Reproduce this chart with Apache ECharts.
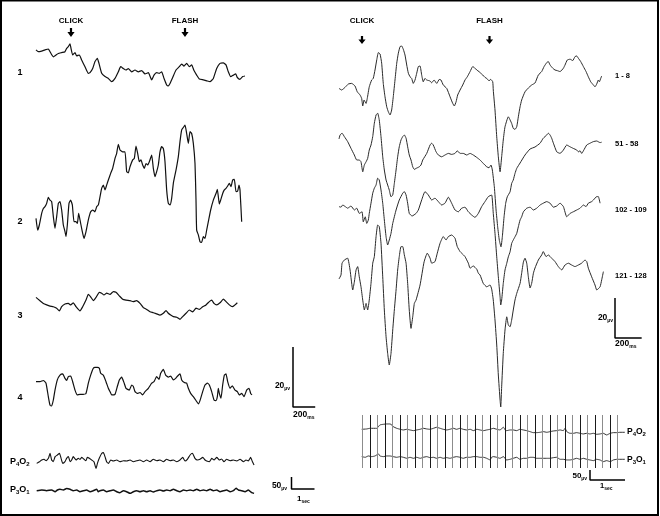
<!DOCTYPE html>
<html><head><meta charset="utf-8">
<script src="https://cdn.jsdelivr.net/npm/echarts@6/dist/echarts.min.js"></script>
<style>html,body{margin:0;padding:0;background:#fff}#c{width:660px;height:516px}</style>
</head><body><div id="c"></div>
<script>
// ---------- DATA (time in ms or s, amplitude in µV) ----------
const stimulusLabels = ['CLICK', 'FLASH'];
const leftTraceLabels = ['1', '2', '3', '4'];
const rightTraceLabels = ['1 - 8', '51 - 58', '102 - 109', '121 - 128'];
const eegLabels = ['P4O2', 'P3O1'];

const left1 = [[0,7.6],[21,7.0],[51,7.2],[81,7.6],[111,7.9],[126,7.0],[156,5.3],[180,5.9],[201,6.4],[231,6.7],[261,7.0],[276,8.1],[291,8.7],[306,9.6],[315,8.1],[330,5.9],[351,6.7],[366,5.6],[390,5.9],[411,4.2],[441,2.0],[471,-0.2],[486,0],[510,1.4],[531,3.7],[552,4.8],[567,3.1],[591,-0.2],[621,-1.3],[651,-1.9],[681,-3.0],[711,-1.9],[741,0.3],[762,2.0],[786,1.4],[810,0.9],[831,1.4],[861,0.3],[891,0.9],[921,0.3],[951,0.7],[981,-0.4],[1011,0],[1041,-2.4],[1062,-0.8],[1086,0],[1110,-0.2],[1131,0.3],[1152,-1.9],[1176,-4.1],[1191,-4.4],[1206,-3.6],[1230,-1.6],[1260,0.9],[1290,2.0],[1311,2.9],[1332,2.2],[1356,3.1],[1380,2.0],[1401,2.6],[1422,0.7],[1446,-0.8],[1470,-2.1],[1506,-2.4],[1536,-2.7],[1566,-3.0],[1596,-1.9],[1626,1.4],[1656,3.1],[1686,3.3],[1710,2.6],[1731,0.3],[1752,-1.3],[1776,-0.8],[1797,-0.4],[1812,-1.6],[1836,-2.2],[1860,-1.3],[1881,-1.1]];
const left2 = [[0,1.1],[15,-2.8],[30,-1.1],[51,2.8],[66,4.4],[81,5.0],[96,6.1],[111,8.1],[126,7.2],[141,6.7],[156,1.7],[171,-2.2],[186,1.7],[201,6.1],[216,6.7],[231,3.9],[246,-1.1],[261,-3.3],[270,-5.0],[282,-1.1],[297,6.1],[312,7.2],[327,5.6],[342,0],[360,0],[372,-0.6],[384,2.8],[396,0.6],[414,-2.8],[432,-5.6],[450,-3.3],[471,0.6],[492,3.3],[510,3.9],[531,3.3],[546,5.0],[561,5.6],[576,8.3],[591,11.1],[606,12.2],[621,10.6],[636,12.2],[651,13.9],[672,16.1],[690,17.8],[711,21.1],[726,22.8],[741,25.8],[756,23.9],[780,23.3],[801,23.3],[816,16.7],[831,16.3],[846,18.3],[870,20.6],[885,21.1],[900,25.2],[915,22.8],[930,20.0],[945,20.6],[960,18.9],[975,17.8],[990,19.4],[1005,18.9],[1020,20.0],[1041,22.2],[1056,17.8],[1071,15.0],[1086,16.7],[1101,18.9],[1116,23.3],[1131,25.0],[1146,24.4],[1161,20.0],[1176,10.6],[1191,6.1],[1206,5.6],[1221,7.8],[1236,12.8],[1260,17.2],[1281,21.7],[1296,26.7],[1311,30.6],[1326,31.4],[1341,32.2],[1356,29.4],[1371,26.1],[1386,30.0],[1401,29.4],[1416,26.1],[1431,19.4],[1440,7.2],[1446,-2.8],[1461,-4.4],[1476,-6.7],[1491,-6.9],[1506,-5.0],[1521,-5.6],[1536,-2.8],[1551,0],[1572,3.9],[1596,7.2],[1620,9.4],[1632,10.8],[1650,5.9],[1662,7.2],[1680,9.4],[1695,10.6],[1710,11.1],[1725,11.9],[1740,12.8],[1755,11.7],[1770,13.9],[1785,14.1],[1800,10.0],[1815,10.2],[1827,12.2],[1836,10.6],[1851,0]];
const left3 = [[0,6.2],[36,5.1],[66,4.2],[96,3.7],[126,3.3],[156,3.1],[186,2.6],[210,1.7],[231,3.1],[261,4.0],[291,4.2],[312,3.7],[336,4.4],[360,3.1],[396,1.7],[420,3.1],[450,5.3],[471,7.2],[492,6.4],[516,5.1],[540,6.2],[570,7.9],[591,7.6],[612,7.0],[636,7.6],[666,7.2],[696,8.1],[720,7.9],[750,6.7],[780,5.6],[810,5.3],[846,5.1],[876,4.8],[906,5.1],[936,4.2],[966,2.8],[996,2.2],[1026,1.4],[1056,1.1],[1086,0.7],[1116,0.3],[1146,0.9],[1170,1.8],[1191,0.9],[1212,0.3],[1236,-0.2],[1266,-0.4],[1296,-1.1],[1320,-0.2],[1350,0.9],[1380,2.0],[1410,1.4],[1440,2.6],[1470,2.2],[1500,3.1],[1530,3.7],[1560,4.8],[1581,5.3],[1602,4.2],[1626,3.7],[1656,4.4],[1686,5.6],[1710,4.8],[1740,3.7],[1767,3.1],[1791,3.7],[1812,4.4]];
const left4 = [[0,5.2],[36,5.2],[66,5.6],[90,4.7],[111,0.2],[126,-2.6],[141,-2.9],[156,-0.9],[171,2.4],[192,5.8],[216,7.4],[240,7.8],[261,6.3],[276,5.6],[291,6.9],[312,7.1],[330,5.2],[351,2.4],[372,0.8],[396,1.0],[426,1.0],[450,1.3],[471,4.7],[492,7.4],[516,9.7],[531,10.0],[552,10.0],[570,9.7],[582,8.0],[606,7.4],[630,5.2],[651,3.0],[666,1.9],[681,0.8],[711,1.0],[732,3.6],[750,5.8],[771,6.7],[792,4.9],[810,3.0],[840,2.4],[861,4.1],[876,3.6],[891,1.9],[912,1.3],[936,1.6],[960,0.8],[981,1.9],[1011,3.0],[1041,4.7],[1062,5.2],[1086,6.9],[1107,6.0],[1122,8.0],[1146,9.3],[1167,7.4],[1191,6.7],[1212,7.1],[1236,5.8],[1257,6.3],[1275,7.1],[1296,7.8],[1311,5.8],[1335,4.9],[1356,4.7],[1371,3.0],[1392,1.3],[1416,0.2],[1446,-1.4],[1461,-2.2],[1476,-1.1],[1500,1.9],[1521,4.1],[1542,4.7],[1560,4.1],[1581,1.9],[1602,-0.9],[1620,-1.1],[1632,0.2],[1641,3.0],[1650,1.3],[1665,-0.3],[1680,4.1],[1695,7.4],[1710,7.8],[1725,5.2],[1746,3.0],[1767,3.8],[1791,2.4],[1812,1.9],[1830,0.8],[1851,1.3],[1872,0.2],[1896,2.4],[1917,3.0],[1932,1.3],[1944,0.8]];

const right1 = [[0,-6.2],[20,-7.0],[45,-5.7],[70,-4.0],[95,-3.7],[120,-5.0],[137,-7.9],[158,-9.5],[170,-11.2],[178,-15.0],[188,-12.0],[203,-13.7],[212,-11.2],[227,-5.4],[245,-2.0],[257,-1.2],[270,3.0],[283,8.0],[295,11.7],[308,11.0],[320,6.4],[332,-3.7],[345,-10.4],[358,-15.4],[370,-17.9],[383,-19.5],[395,-17.0],[407,-10.4],[420,-2.0],[433,6.4],[445,11.4],[458,14.7],[470,15.0],[482,13.4],[495,10.5],[508,5.5],[520,1.4],[533,-0.4],[545,-1.2],[557,-3.7],[570,-2.0],[583,1.4],[595,4.7],[608,5.0],[620,0.5],[632,-2.9],[645,-1.2],[658,-2.0],[683,-2.5],[695,-3.4],[713,-2.0],[733,-3.7],[752,-1.7],[765,-2.0],[782,-4.5],[808,-6.2],[833,-10.4],[853,-13.7],[865,-15.0],[878,-12.9],[890,-9.5],[908,-7.0],[928,-4.5],[945,-2.0],[962,-0.4],[983,2.2],[1003,4.7],[1015,4.2],[1033,3.0],[1050,2.2],[1063,1.4],[1078,0.5],[1095,-0.7],[1108,-1.2],[1125,-2.4],[1138,-1.7],[1153,-2.9],[1157,-7.0],[1170,-17.0],[1183,-30.4],[1195,-40.4],[1208,-47.9],[1220,-40.4],[1232,-32.0],[1245,-25.4],[1270,-20.4],[1295,-23.7],[1307,-26.2],[1320,-26.7],[1333,-25.4],[1345,-20.4],[1358,-15.4],[1370,-12.0],[1395,-7.9],[1420,-6.0],[1445,-4.5],[1470,-3.5],[1495,0.5],[1520,2.2],[1538,4.7],[1558,6.7],[1570,7.2],[1583,5.5],[1603,3.9],[1620,3.0],[1637,2.7],[1658,2.2],[1683,3.9],[1695,5.5],[1712,8.0],[1733,8.4],[1753,7.7],[1770,9.7],[1783,10.0],[1795,8.9],[1813,7.2],[1833,4.7],[1853,2.2],[1870,-0.4],[1888,-2.9],[1908,-4.5],[1920,-5.4],[1933,-4.0],[1945,-2.0],[1953,-2.9],[1963,-1.2],[1970,0]];
const right2 = [[0,2.5],[8,4.5],[23,5.4],[40,3.7],[65,1.2],[90,-2.2],[115,-5.5],[133,-8.0],[152,-8.0],[165,-8.9],[178,-13.9],[190,-10.5],[203,-8.9],[215,-7.2],[227,-3.0],[240,-0.5],[253,3.7],[265,10.4],[278,14.5],[290,15.4],[302,12.0],[315,3.7],[328,-6.4],[340,-13.0],[353,-18.0],[365,-20.5],[377,-23.0],[390,-26.4],[403,-25.5],[415,-19.7],[428,-13.0],[440,-6.4],[452,-1.4],[465,2.0],[478,3.7],[490,4.5],[503,2.9],[515,-1.4],[527,-5.5],[540,-8.0],[553,-11.4],[565,-12.7],[578,-12.2],[602,-11.4],[615,-10.5],[628,-8.0],[658,-4.7],[683,-0.5],[695,0.4],[707,-0.5],[728,-3.9],[745,-5.5],[770,-6.4],[795,-5.5],[820,-4.7],[845,-5.2],[870,-4.7],[887,-3.4],[908,-4.7],[932,-4.7],[958,-5.5],[983,-4.7],[1007,-5.5],[1033,-6.7],[1058,-8.0],[1082,-9.7],[1108,-11.4],[1125,-11.9],[1140,-10.5],[1150,-13.0],[1165,-21.4],[1178,-33.0],[1190,-41.4],[1202,-48.0],[1215,-51.4],[1225,-46.4],[1238,-36.4],[1250,-29.7],[1262,-26.4],[1283,-23.9],[1295,-19.7],[1307,-18.0],[1320,-14.7],[1333,-12.2],[1358,-9.5],[1395,-5.5],[1433,-2.5],[1470,-1.5],[1508,0.4],[1532,2.9],[1558,4.5],[1570,5.4],[1583,4.5],[1595,2.9],[1608,0.4],[1633,-3.9],[1658,-4.7],[1683,-3.0],[1708,-0.5],[1733,-1.4],[1757,-2.2],[1783,-3.0],[1795,-3.9],[1808,-3.4],[1820,-4.7],[1833,-3.4],[1858,-0.5],[1883,0.4],[1908,1.2],[1933,1.5],[1958,0.7],[1970,0.9]];
const right3 = [[0,1.7],[15,1.4],[28,2.5],[47,1.7],[65,0.9],[90,2.0],[115,0],[133,0.9],[152,-1.7],[173,-0.9],[182,-5.9],[197,-3.4],[208,-6.7],[220,-5.0],[227,-1.7],[240,3.4],[253,8.4],[265,10.9],[278,12.5],[290,15.9],[302,15.0],[315,10.0],[328,3.4],[340,-5.0],[353,-13.4],[365,-17.5],[377,-15.0],[390,-11.7],[403,-6.7],[428,0],[452,5.0],[478,8.4],[490,9.2],[503,7.5],[515,3.4],[527,-1.7],[548,-3.0],[578,-1.7],[595,0],[620,5.0],[645,9.2],[670,7.5],[695,5.0],[720,5.9],[745,4.2],[770,2.5],[795,3.4],[820,6.4],[845,3.4],[870,0],[895,-0.9],[920,0.9],[945,1.4],[970,-0.9],[995,-2.5],[1020,-3.7],[1045,-1.7],[1070,1.7],[1095,4.2],[1120,6.7],[1145,7.5],[1157,-1.7],[1170,-11.7],[1183,-23.4],[1195,-33.4],[1208,-43.4],[1213,-47.5],[1220,-45.0],[1232,-36.7],[1245,-30.0],[1258,-26.7],[1270,-23.4],[1283,-20.9],[1295,-16.7],[1307,-15.0],[1320,-13.4],[1333,-11.7],[1345,-8.4],[1358,-5.0],[1370,-3.4],[1383,-0.9],[1408,0.9],[1433,1.4],[1458,0],[1483,0.9],[1508,2.5],[1532,3.4],[1558,4.2],[1583,3.4],[1608,1.4],[1633,2.0],[1658,3.4],[1683,1.7],[1708,-3.4],[1733,-1.7],[1757,-0.9],[1783,0],[1808,0.9],[1833,2.5],[1853,1.7],[1870,3.4],[1895,4.2],[1908,5.0],[1933,6.7],[1945,6.7],[1958,3.4]];
const right4 = [[0,-1.5],[15,0.5],[23,6.4],[40,8.0],[65,8.9],[83,3.0],[103,-7.0],[115,-3.0],[128,3.0],[140,4.7],[152,-0.4],[165,-5.4],[178,-12.0],[190,-17.0],[203,-13.7],[215,-17.0],[227,-12.0],[240,-3.7],[253,6.4],[265,9.7],[278,19.7],[290,25.5],[302,24.7],[315,16.4],[328,-0.4],[340,-17.0],[353,-30.4],[365,-38.7],[377,-44.5],[390,-38.7],[403,-27.0],[415,-17.0],[428,-7.0],[440,3.0],[452,9.7],[465,14.7],[478,14.7],[490,10.5],[503,6.4],[515,-3.7],[527,-17.0],[540,-26.2],[553,-20.4],[565,-13.7],[578,-12.0],[608,-4.5],[638,7.0],[662,11.4],[683,8.9],[695,6.4],[720,7.2],[737,11.4],[758,16.4],[782,19.7],[803,18.0],[820,19.7],[845,20.5],[870,18.9],[887,14.7],[908,12.2],[920,11.4],[945,9.7],[970,6.4],[983,3.9],[1007,5.0],[1033,3.4],[1045,1.4],[1058,0.5],[1082,-3.7],[1108,-5.4],[1133,-4.5],[1145,-6.5],[1157,-12.0],[1170,-22.0],[1183,-34.5],[1195,-49.5],[1208,-62.0],[1213,-65.5],[1220,-55.4],[1232,-38.7],[1245,-27.0],[1258,-20.4],[1270,-24.5],[1283,-25.4],[1295,-22.0],[1307,-17.0],[1320,-12.0],[1333,-8.7],[1358,-3.7],[1370,1.4],[1383,7.0],[1395,8.9],[1408,6.4],[1420,-0.4],[1433,-6.0],[1445,-3.7],[1458,1.4],[1470,4.0],[1495,8.0],[1520,10.5],[1532,12.2],[1553,9.7],[1570,10.5],[1595,8.9],[1620,7.2],[1645,4.7],[1670,3.0],[1695,5.5],[1720,6.4],[1745,5.5],[1770,4.7],[1795,5.5],[1820,6.4],[1845,8.0],[1858,7.2],[1870,3.9],[1895,-0.4],[1920,-4.5],[1933,-7.0],[1958,-5.4],[1970,-2.0],[1983,2.2]];

const leftP4O2 = [[0,-7],[0.12,0],[0.22,7],[0.32,10],[0.41,4],[0.51,14],[0.58,35],[0.65,7],[0.72,0],[0.80,21],[0.90,28],[0.99,35],[1.06,14],[1.13,-7],[1.23,0],[1.30,14],[1.38,21],[1.45,0],[1.52,7],[1.59,21],[1.71,7],[1.81,14],[1.88,10],[1.96,18],[2.06,10],[2.14,4],[2.20,18],[2.29,14],[2.39,7],[2.49,0],[2.58,-28],[2.64,-7],[2.72,14],[2.83,35],[2.90,38],[2.97,21],[3.04,0],[3.12,-7],[3.22,7],[3.33,3],[3.48,7],[3.62,0],[3.77,4],[3.91,3],[4.06,7],[4.20,0],[4.35,4],[4.49,7],[4.64,0],[4.78,7],[4.93,0],[5.07,10],[5.22,4],[5.36,7],[5.51,0],[5.65,10],[5.80,4],[5.94,7],[6.09,0],[6.23,7],[6.35,18],[6.45,3],[6.55,10],[6.67,28],[6.77,35],[6.88,14],[6.99,7],[7.10,10],[7.22,18],[7.32,7],[7.39,3],[7.51,0],[7.61,14],[7.71,7],[7.83,18],[7.94,7],[8.04,11],[8.14,0],[8.26,10],[8.41,4],[8.55,7],[8.70,3],[8.84,10],[8.99,0],[9.10,7],[9.20,3],[9.30,18],[9.38,0],[9.45,-14]];
const leftP3O1 = [[0,-3],[0.22,0],[0.43,-3],[0.65,0],[0.80,-7],[0.90,0],[1.01,3],[1.16,0],[1.30,6],[1.45,3],[1.59,-3],[1.74,0],[1.88,-7],[2.03,-3],[2.17,0],[2.32,-7],[2.46,-3],[2.61,3],[2.68,-7],[2.75,-3],[2.90,0],[3.04,-7],[3.19,-3],[3.33,0],[3.48,-7],[3.62,-11],[3.77,-3],[3.91,-7],[4.06,-14],[4.20,-7],[4.35,-3],[4.49,-7],[4.64,-3],[4.78,-7],[4.93,-3],[5.07,-8],[5.22,-3],[5.36,0],[5.51,-4],[5.65,0],[5.80,-3],[5.94,3],[6.09,-3],[6.23,-7],[6.38,0],[6.52,-3],[6.67,0],[6.81,-3],[6.96,3],[7.10,-3],[7.25,0],[7.39,-3],[7.54,3],[7.68,-3],[7.83,0],[7.97,-7],[8.12,-3],[8.26,0],[8.41,-7],[8.55,-3],[8.67,7],[8.77,0],[8.91,-3],[9.06,-7],[9.20,0],[9.35,-11],[9.45,-14]];

const rightP4O2 = [[0,0],[0.14,1.7],[0.24,5],[0.43,5],[0.52,21.7],[0.62,25],[0.71,26.7],[0.81,26.7],[0.86,21.7],[0.90,13.3],[1.00,5],[1.10,0],[1.19,-3.3],[1.29,0],[1.38,-3.3],[1.48,-6.7],[1.57,-3.3],[1.67,0],[1.76,5],[1.86,1.7],[1.95,0],[2.05,5],[2.14,10],[2.24,5],[2.33,0],[2.43,-3.3],[2.52,0],[2.62,5],[2.71,0],[2.81,5],[2.90,0],[3.00,-3.3],[3.10,0],[3.19,-6.7],[3.29,0],[3.38,-3.3],[3.48,-6.7],[3.57,-3.3],[3.67,0],[3.76,5],[3.86,0],[3.95,-3.3],[4.05,10],[4.10,-3.3],[4.14,-6.7],[4.24,-3.3],[4.33,-3.3],[4.43,-6.7],[4.52,0],[4.62,-3.3],[4.71,-6.7],[4.81,-11.7],[4.90,-16.7],[5.00,-16.7],[5.10,-15],[5.19,-11.7],[5.29,-15],[5.38,-11.7],[5.48,-8.3],[5.57,-6.7],[5.67,-3.3],[5.76,-6.7],[5.81,5],[5.86,-11.7],[5.95,-20],[6.05,-20],[6.14,-16.7],[6.24,-20],[6.33,-23.3],[6.43,-20],[6.52,-23.3],[6.62,-20],[6.71,-25],[6.81,-23.3],[6.90,-20],[7.00,-28.3],[7.10,-20],[7.19,-16.7],[7.29,-16.7],[7.38,-15],[7.52,-15]];
const rightP3O1 = [[0,3.3],[0.10,0],[0.19,6.7],[0.29,3.3],[0.38,6.7],[0.48,16.7],[0.52,6.7],[0.62,3.3],[0.71,6.7],[0.81,6.7],[0.90,3.3],[1.00,0],[1.10,3.3],[1.19,0],[1.29,-5],[1.38,0],[1.48,-5],[1.57,0],[1.67,-5],[1.76,0],[1.86,3.3],[1.95,-1.7],[2.05,0],[2.14,-5],[2.24,0],[2.33,-5],[2.43,-1.7],[2.52,-5],[2.62,0],[2.71,3.3],[2.81,0],[2.90,-5],[3.00,0],[3.10,0],[3.19,3.3],[3.29,3.3],[3.38,0],[3.48,0],[3.57,-5],[3.67,-13.3],[3.71,0],[3.76,3.3],[3.86,0],[3.95,-5],[4.05,3.3],[4.14,-13.3],[4.24,-10],[4.33,-5],[4.43,0],[4.52,-10],[4.62,-5],[4.71,-5],[4.81,0],[4.90,0],[5.00,-5],[5.10,-5],[5.19,-5],[5.29,-5],[5.38,-5],[5.48,-1.7],[5.57,0],[5.67,-10],[5.76,-10],[5.86,-13.3],[5.95,-13.3],[6.05,-10],[6.14,-5],[6.24,-10],[6.33,-5],[6.43,-10],[6.52,-13.3],[6.62,-16.7],[6.71,-10],[6.81,-13.3],[6.90,-21.7],[7.00,-16.7],[7.10,-21.7],[7.19,-13.3],[7.29,-10],[7.38,-10],[7.52,-10]];

// stimulus marker times (s) on the right EEG strip
const markerTimes = [0.02,0.23,0.45,0.66,0.88,1.09,1.31,1.52,1.73,1.95,2.16,2.38,2.59,2.81,3.02,3.23,3.45,3.66,3.88,4.09,4.31,4.52,4.73,4.95,5.16,5.38,5.59,5.81,6.02,6.23,6.45,6.66,6.88,7.09,7.31];

// calibration bars
const erpBar = [[0,20],[0,0],[200,0]];   // 20 µV / 200 ms
const eegBar = [[0,50],[0,0],[1,0]];     // 50 µV / 1 s

// ---------- LAYOUT ----------
const grids = [], xAxes = [], yAxes = [], series = [];
function addTrace(data, x0, zeroY, unitPerPx, pxPerUv, xMax, halfH, color, width) {
  const i = grids.length;
  const up = Math.min(halfH, zeroY - 2), down = halfH;
  grids.push({left: x0, top: zeroY - up, width: xMax / unitPerPx, height: up + down});
  xAxes.push({type: 'value', gridIndex: i, min: 0, max: xMax, show: false});
  yAxes.push({type: 'value', gridIndex: i, min: -down / pxPerUv, max: up / pxPerUv, show: false});
  series.push({type: 'line', xAxisIndex: i, yAxisIndex: i, data: data, symbol: 'none', smooth: 0.15,
    clip: false, silent: true, animation: false, lineStyle: {color: color, width: width}});
  return i;
}
function addBar(data, x0, bottomY, unitPerPx, pxPerUv) {
  const i = grids.length;
  const xMax = data[2][0], yMax = data[0][1];
  grids.push({left: x0, top: bottomY - yMax * pxPerUv, width: xMax / unitPerPx, height: yMax * pxPerUv});
  xAxes.push({type: 'value', gridIndex: i, min: 0, max: xMax, show: false});
  yAxes.push({type: 'value', gridIndex: i, min: 0, max: yMax, show: false});
  series.push({type: 'line', xAxisIndex: i, yAxisIndex: i, data: data, symbol: 'none', clip: false,
    silent: true, animation: false, lineStyle: {color: '#000', width: 1.5}});
}

// left averaged responses: 9 ms/px, 3 px/µV
const leftZero = [72.7, 221.7, 316, 397.3];
[left1, left2, left3, left4].forEach((d, k) => addTrace(d, 36, leftZero[k], 9, 3, 1950, 110, '#111', 1.2));
// right averaged responses: 7.5 ms/px, 2 px/µV
const rightZero = [76, 144, 210, 276];
[right1, right2, right3, right4].forEach((d, k) => addTrace(d, 339, rightZero[k], 7.5, 2, 2000, 140, '#2a2a2a', 1));
// left EEG: 23 px/s, 0.24 px/µV
addTrace(leftP4O2, 36.7, 461.7, 1 / 23, 0.24, 9.5, 20, '#111', 1.1);
addTrace(leftP3O1, 36.7, 490, 1 / 23, 0.24, 9.5, 20, '#111', 1.5);
// right EEG: 35 px/s, 0.2 px/µV
addTrace(rightP4O2, 361.7, 429.3, 1 / 35, 0.2, 7.6, 20, '#333', 1);
addTrace(rightP3O1, 361.7, 457.3, 1 / 35, 0.2, 7.6, 20, '#333', 1);
// marker strip
(function () {
  const i = grids.length;
  grids.push({left: 361.7, top: 415, width: 7.6 * 35, height: 53});
  xAxes.push({type: 'value', gridIndex: i, min: 0, max: 7.6, show: false});
  yAxes.push({type: 'value', gridIndex: i, min: 0, max: 1, show: false});
  series.push({type: 'line', xAxisIndex: i, yAxisIndex: i, data: [], silent: true, animation: false,
    markLine: {symbol: ['none', 'none'], silent: true, animation: false, label: {show: false},
      lineStyle: {type: 'solid', width: 1},
      data: markerTimes.map((t, k) => ({xAxis: t, lineStyle: {color: k % 2 ? '#1a1a1a' : '#8c8c8c', type: 'solid', width: 1}}))}});
})();
// calibration bars
addBar(erpBar, 293, 407, 9, 3);
addBar(erpBar, 615, 338, 7.5, 2);
addBar(eegBar, 291.5, 489, 1 / 23, 0.24);
addBar(eegBar, 590, 480, 1 / 35, 0.2);

// ---------- TEXT / ANNOTATIONS ----------
const FONT = '"Liberation Sans", Arial, sans-serif';
function txt(x, y, text, size, align, extra) {
  return Object.assign({type: 'text', x: x, y: y, silent: true,
    style: {text: text, fill: '#000', font: 'bold ' + size + 'px ' + FONT,
      align: align || 'center', verticalAlign: 'middle', textAlign: align || 'center', textVerticalAlign: 'middle'}}, extra || {});
}
function richTxt(x, y, text, align, big, small) {
  return {type: 'text', x: x, y: y, silent: true,
    style: {text: text, align: align, verticalAlign: 'middle', textAlign: align, textVerticalAlign: 'middle',
      rich: {a: {fontSize: big, fontWeight: 'bold', fontFamily: FONT, fill: '#000', verticalAlign: 'bottom'},
             s: {fontSize: small, fontWeight: 'bold', fontFamily: FONT, fill: '#000', verticalAlign: 'bottom', padding: [0, 0, -1, 0]}}}};
}
function arrow(x, y0, y2) {
  const y1 = y0 + (y2 - y0) * 0.45;
  return {type: 'polygon', silent: true, shape: {points: [[x - 1.1, y0], [x + 1.1, y0], [x + 1.1, y1], [x + 3.6, y1], [x, y2], [x - 3.6, y1], [x - 1.1, y1]]}, style: {fill: '#000'}};
}
function eegLabel(name) { return '{a|' + name[0] + '}{s|' + name[1] + '}{a|' + name[2] + '}{s|' + name[3] + '}'; }

const graphic = [
  {type: 'rect', silent: true, shape: {x: 1, y: 0.5, width: 657, height: 514.5}, style: {fill: 'none', stroke: '#000', lineWidth: 2}},
  txt(71, 21, stimulusLabels[0], 8), txt(185, 21, stimulusLabels[1], 8),
  txt(362, 21, stimulusLabels[0], 8), txt(489.5, 21, stimulusLabels[1], 8),
  arrow(71, 28, 37), arrow(185, 28, 37), arrow(362, 36, 44), arrow(489.5, 36, 44),
  ...leftTraceLabels.map((s, k) => txt(20, leftZero[k], s, 9)),
  ...rightTraceLabels.map((s, k) => txt(615, rightZero[k], s, 7.5, 'left')),
  richTxt(290, 386, '{a|20}{s|µv}', 'right', 8.5, 5),
  richTxt(293, 415, '{a|200}{s|ms}', 'left', 8.5, 5),
  richTxt(613, 318, '{a|20}{s|µv}', 'right', 8.5, 5),
  richTxt(615, 344, '{a|200}{s|ms}', 'left', 8.5, 5),
  richTxt(10, 462, eegLabel(eegLabels[0]), 'left', 9, 6),
  richTxt(10, 490, eegLabel(eegLabels[1]), 'left', 9, 6),
  richTxt(287, 486, '{a|50}{s|µv}', 'right', 8.5, 5),
  richTxt(297, 499, '{a|1}{s|sec}', 'left', 8, 5),
  richTxt(627, 432, eegLabel(eegLabels[0]), 'left', 8.5, 6),
  richTxt(627, 459.5, eegLabel(eegLabels[1]), 'left', 8.5, 6),
  richTxt(587, 476, '{a|50}{s|µv}', 'right', 8, 5),
  richTxt(600, 486, '{a|1}{s|sec}', 'left', 7.5, 5)
];

const chart = echarts.init(document.getElementById('c'), null, {renderer: 'canvas'});
chart.setOption({
  animation: false,
  backgroundColor: '#fff',
  grid: grids, xAxis: xAxes, yAxis: yAxes, series: series, graphic: graphic
});
</script></body></html>
